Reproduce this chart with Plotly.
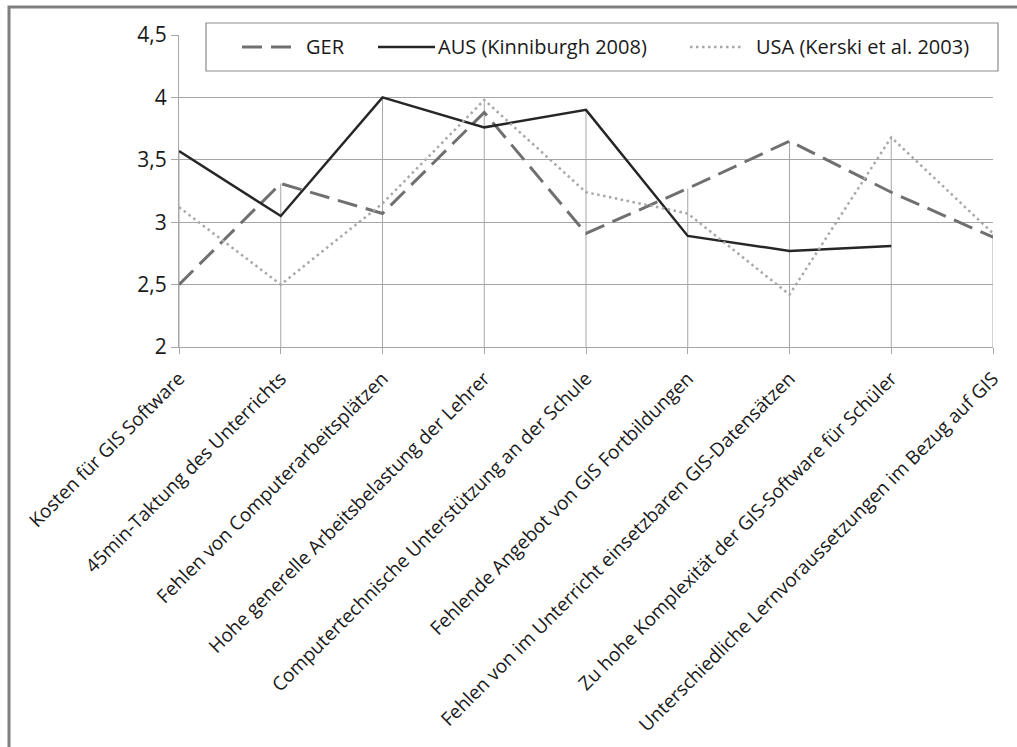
import plotly.graph_objects as go

# Hindernisse beim GIS-Einsatz im Unterricht (Mittelwerte)
categories = [
    "Kosten für GIS Software",
    "45min-Taktung des Unterrichts",
    "Fehlen von Computerarbeitsplätzen",
    "Hohe generelle Arbeitsbelastung der Lehrer",
    "Computertechnische Unterstützung an der Schule",
    "Fehlende Angebot von GIS Fortbildungen",
    "Fehlen von im Unterricht einsetzbaren GIS-Datensätzen",
    "Zu hohe Komplexität der GIS-Software für Schüler",
    "Unterschiedliche Lernvoraussetzungen im Bezug auf GIS",
]
ger = [2.50, 3.31, 3.07, 3.88, 2.91, 3.27, 3.65, 3.24, 2.88]
aus = [3.57, 3.05, 4.00, 3.76, 3.90, 2.89, 2.77, 2.81, None]
usa = [3.12, 2.50, 3.15, 3.98, 3.24, 3.07, 2.42, 3.68, 2.91]

y_ticks = [2, 2.5, 3, 3.5, 4, 4.5]
y_tick_labels = ["2", "2,5", "3", "3,5", "4", "4,5"]

series = [
    ("GER", ger, dict(color="#707070", width=3, dash="20px,9px")),
    ("AUS (Kinniburgh 2008)", aus, dict(color="#262626", width=2.5)),
    ("USA (Kerski et al. 2003)", usa, dict(color="#a8a8a8", width=2.5, dash="2.5px,3.5px")),
]

FONT = "Open Sans"
GRID = "#a6a6a6"

W, H = 1017, 747
L, R, T, B = 179, 24, 35, 400
PW, PH = W - L - R, H - T - B


def px(x):
    return (x - L) / PW


def py(y):
    return (H - B - y) / PH


xs = list(range(len(categories)))

fig = go.Figure()

# drop lines from the highest value of each category down to the axis
drop_x, drop_y = [], []
for i in xs:
    vals = [s[1][i] for s in series if s[1][i] is not None]
    drop_x += [i, i, None]
    drop_y += [y_ticks[0], max(vals), None]
fig.add_trace(go.Scatter(x=drop_x, y=drop_y, mode="lines",
                         line=dict(color=GRID, width=1),
                         hoverinfo="skip", showlegend=False))

for name, vals, line in series:
    fig.add_trace(go.Scatter(x=xs, y=vals, mode="lines", name=name,
                             line=line, connectgaps=False, showlegend=False))

shapes = []
annotations = []

# outer frame (left and top edge)
shapes.append(dict(type="path", xref="paper", yref="paper",
                   path=f"M{px(9)},{py(H + 5)} L{px(9)},{py(7)} L{px(W + 5)},{py(7)}",
                   line=dict(color="#7f7f7f", width=3)))

# legend box
shapes.append(dict(type="rect", xref="paper", yref="paper",
                   x0=px(206), x1=px(998), y0=py(71), y1=py(23),
                   line=dict(color="#8c8c8c", width=1.2), fillcolor="white",
                   layer="above"))
legend_pos = [(242, 298, 304), (378, 435, 436), (690, 743, 754)]
for (name, _, line), (x0, x1, xt) in zip(series, legend_pos):
    shapes.append(dict(type="line", xref="paper", yref="paper",
                       x0=px(x0), x1=px(x1), y0=py(47), y1=py(47),
                       line=line, layer="above"))
    annotations.append(dict(text=name, xref="paper", yref="paper",
                            x=px(xt), y=py(47), xanchor="left", yanchor="middle",
                            showarrow=False,
                            font=dict(family=FONT, size=20, color="#1a1a1a")))

fig.update_layout(
    width=W, height=H,
    margin=dict(l=L, r=R, t=T, b=B, autoexpand=False),
    paper_bgcolor="white", plot_bgcolor="white",
    showlegend=False,
    shapes=shapes, annotations=annotations,
    font=dict(family=FONT, color="#1a1a1a"),
)
fig.update_xaxes(
    range=[0, len(categories) - 1],
    tickmode="array", tickvals=xs, ticktext=categories,
    tickangle=-45, tickfont=dict(family=FONT, size=19),
    ticks="outside", ticklen=6, tickcolor=GRID, tickwidth=1,
    ticklabelstandoff=6, automargin=False,
    showgrid=False, zeroline=False,
    showline=True, linecolor=GRID, linewidth=1,
)
fig.update_yaxes(
    range=[2, 4.5],
    tickmode="array", tickvals=y_ticks, ticktext=y_tick_labels,
    tickfont=dict(family=FONT, size=21), automargin=False,
    ticks="outside", ticklen=7, tickcolor=GRID, tickwidth=1,
    showgrid=True, gridcolor=GRID, gridwidth=1,
    zeroline=False, showline=True, linecolor=GRID, linewidth=1,
)

fig.write_html("out.html")
